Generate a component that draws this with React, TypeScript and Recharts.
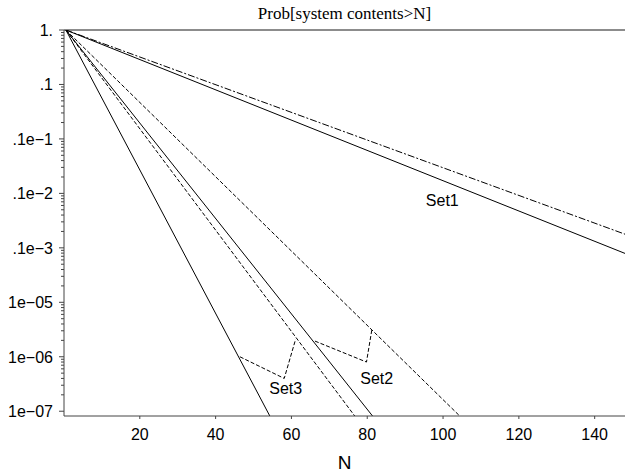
import React from "react";
import {
  LineChart,
  Line,
  XAxis,
  YAxis,
  ReferenceLine,
  ReferenceDot,
} from "recharts";

// ---- data ----
const set1Solid = [
  { n: 0.5, p: 1 },
  { n: 148, p: 7.9e-5 },
];
const set1Dashed = [
  { n: 0.5, p: 1 },
  { n: 148, p: 1.78e-4 },
];
const set2Solid = [
  { n: 0.5, p: 1 },
  { n: 81.4, p: 8.17e-8 },
];
const set2Dashed = [
  { n: 0.5, p: 1 },
  { n: 104.4, p: 8.17e-8 },
];
const set3Solid = [
  { n: 0.5, p: 1 },
  { n: 54.3, p: 8.17e-8 },
];
const set3Dashed = [
  { n: 0.5, p: 1 },
  { n: 76.7, p: 8.17e-8 },
];

const set2Pointer = [
  { n: 66.2, p: 1.94e-6 },
  { n: 79.8, p: 8.0e-7 },
  { n: 81.2, p: 3.09e-6 },
];
const set3Pointer = [
  { n: 46.4, p: 1.0e-6 },
  { n: 58.1, p: 4.0e-7 },
  { n: 61.1, p: 2.09e-6 },
];

const seriesLabels = [
  { name: "Set1", n: 99.8, p: 7.5e-4 },
  { name: "Set2", n: 82.5, p: 4.07e-7 },
  { name: "Set3", n: 58.5, p: 2.67e-7 },
];

const xTicks = [20, 40, 60, 80, 100, 120, 140];
const yMajorTicks = [1, 0.1, 0.01, 1e-3, 1e-4, 1e-5, 1e-6, 1e-7];
const yMajorLabels = [
  "1.",
  ".1",
  ".1e\u22121",
  ".1e\u22122",
  ".1e\u22123",
  "1e\u221205",
  "1e\u221206",
  "1e\u221207",
];
const yMinorMultipliers = [2, 3, 4, 5, 6, 7, 8, 9];

const yDomain = [8.17e-8, 1];
const xDomain = [0, 148];
const title = "Prob[system contents>N]";
const xLabel = "N";

// ---- layout ----
const W = 625;
const H = 473;
const FONT = "'Liberation Sans', Arial, Helvetica, sans-serif";

const yTicks: number[] = [];
yMajorTicks.forEach((m) => yTicks.push(m));
yMajorTicks.slice(1).forEach((m) => {
  yMinorMultipliers.forEach((k) => yTicks.push(m * k));
});

const YTick = (props: any) => {
  const { x, y, payload } = props;
  const v = payload.value as number;
  const lg = Math.log10(v);
  const isMajor = Math.abs(lg - Math.round(lg)) < 1e-6;
  if (!isMajor) {
    return <line x1={x - 3} x2={x} y1={y} y2={y} stroke="#444" strokeWidth={1} />;
  }
  const idx = yMajorTicks.findIndex((m) => Math.abs(Math.log10(m) - lg) < 1e-6);
  return (
    <g>
      <line x1={x - 5} x2={x} y1={y} y2={y} stroke="#444" strokeWidth={1} />
      <text
        x={x - 11}
        y={y}
        dy="0.36em"
        textAnchor="end"
        fontSize={16}
        fontFamily={FONT}
        fill="#000"
      >
        {yMajorLabels[idx]}
      </text>
    </g>
  );
};

export default function App() {
  return (
    <div style={{ position: "absolute", left: 0, top: 0, width: W, height: H, background: "#fff" }}>
      <div
        style={{
          position: "absolute",
          left: 64,
          top: 4,
          width: 561,
          textAlign: "center",
          fontFamily: "'Liberation Serif', 'Times New Roman', serif",
          fontSize: 17,
          lineHeight: "20px",
          color: "#000",
        }}
      >
        {title}
      </div>
      <LineChart width={W} height={H} margin={{ top: 30, right: 0, bottom: 0, left: 0 }}>
        <XAxis
          dataKey="n"
          type="number"
          domain={xDomain}
          allowDataOverflow
          ticks={xTicks}
          interval={0}
          tickSize={3}
          tickMargin={10}
          height={57}
          stroke="#444"
          tick={{ fontSize: 16, fill: "#000", fontFamily: FONT }}
          label={{
            value: xLabel,
            position: "insideBottom",
            offset: 4,
            style: { fontSize: 19, fill: "#000", fontFamily: FONT },
          }}
        />
        <YAxis
          type="number"
          scale="log"
          domain={yDomain}
          allowDataOverflow
          ticks={yTicks}
          interval={0}
          width={64}
          tickSize={0}
          tickMargin={0}
          tickLine={false}
          stroke="#444"
          tick={<YTick />}
        />
        <ReferenceLine y={1} stroke="#666" strokeWidth={1.5} />
        <Line data={set1Solid} dataKey="p" type="linear" dot={false} stroke="#000" strokeWidth={1} isAnimationActive={false} />
        <Line data={set1Dashed} dataKey="p" type="linear" dot={false} stroke="#000" strokeWidth={1} strokeDasharray="7 2 2 2" isAnimationActive={false} />
        <Line data={set2Solid} dataKey="p" type="linear" dot={false} stroke="#000" strokeWidth={1} isAnimationActive={false} />
        <Line data={set2Dashed} dataKey="p" type="linear" dot={false} stroke="#000" strokeWidth={1} strokeDasharray="4 2" isAnimationActive={false} />
        <Line data={set3Solid} dataKey="p" type="linear" dot={false} stroke="#000" strokeWidth={1} isAnimationActive={false} />
        <Line data={set3Dashed} dataKey="p" type="linear" dot={false} stroke="#000" strokeWidth={1} strokeDasharray="4 2" isAnimationActive={false} />
        <Line data={set2Pointer} dataKey="p" type="linear" dot={false} stroke="#000" strokeWidth={1} strokeDasharray="4 2" isAnimationActive={false} />
        <Line data={set3Pointer} dataKey="p" type="linear" dot={false} stroke="#000" strokeWidth={1} strokeDasharray="4 2" isAnimationActive={false} />
        {seriesLabels.map((l) => (
          <ReferenceDot
            key={l.name}
            x={l.n}
            y={l.p}
            r={1}
            fill="none"
            stroke="none"
            label={{ value: l.name, position: "center", fill: "#000", fontSize: 16, fontFamily: FONT }}
          />
        ))}
      </LineChart>
    </div>
  );
}
